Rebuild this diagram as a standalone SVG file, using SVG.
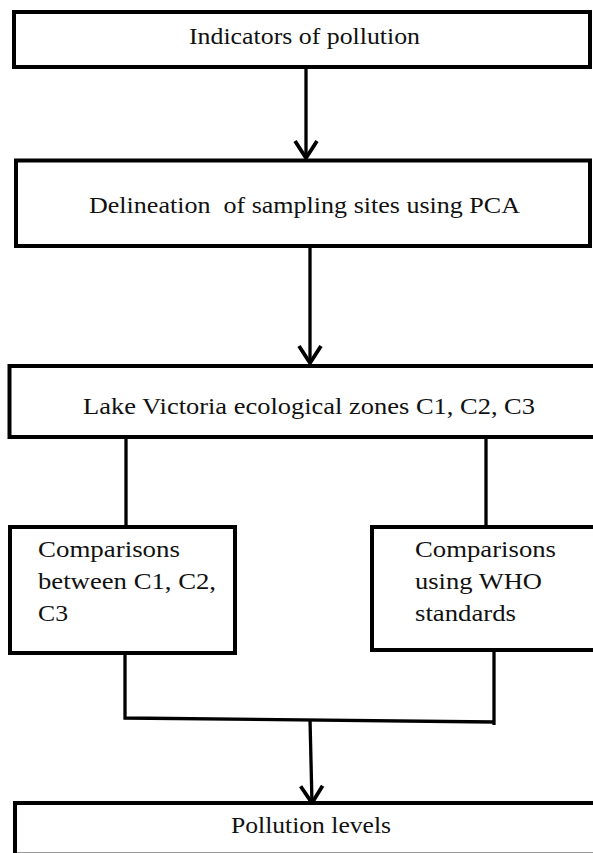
<svg xmlns="http://www.w3.org/2000/svg" width="593" height="853" viewBox="0 0 593 853">
<style>
.box{fill:#fff;stroke:#000;stroke-width:4}
.t{font-family:'Liberation Serif',serif;font-size:23px;fill:#111}
.c{fill:none;stroke:#000;stroke-width:3.3;stroke-linejoin:miter}
</style>
<defs>
<marker id="ah" markerUnits="userSpaceOnUse" markerWidth="24" markerHeight="30" viewBox="-21 -15 24 30" refX="0" refY="0" orient="auto">
<path d="M-17,-11 L0,0 L-17,11" fill="none" stroke="#000" stroke-width="3.8"/>
</marker>
</defs>
<rect width="593" height="853" fill="#fff"/>
<g id="connectors">
<line class="c" x1="306" y1="69" x2="306" y2="158" marker-end="url(#ah)"/>
<line class="c" x1="310" y1="248" x2="310" y2="363" marker-end="url(#ah)"/>
<line class="c" x1="126" y1="439" x2="126" y2="525"/>
<line class="c" x1="486" y1="439" x2="486" y2="525"/>
<polyline class="c" points="125,655 125,718 494,722"/>
<line class="c" x1="494" y1="652" x2="494" y2="725"/>
<line class="c" x1="310" y1="719" x2="312" y2="803" marker-end="url(#ah)"/>
</g>
<g id="n1">
<rect class="box" x="14" y="12" width="576" height="55"/>
<text class="t" x="189" y="44" textLength="231" lengthAdjust="spacingAndGlyphs">Indicators of pollution</text>
</g>
<g id="n2">
<rect class="box" x="16" y="160.5" width="574" height="85.5"/>
<text class="t" x="89" y="213" textLength="431" lengthAdjust="spacingAndGlyphs" xml:space="preserve">Delineation  of sampling sites using PCA</text>
</g>
<g id="n3">
<rect class="box" x="9.5" y="366" width="600" height="71"/>
<text class="t" x="83" y="414" textLength="452" lengthAdjust="spacingAndGlyphs">Lake Victoria ecological zones C1, C2, C3</text>
</g>
<g id="n4">
<rect class="box" x="10" y="527" width="225" height="126"/>
<text class="t" x="38" y="557" textLength="142" lengthAdjust="spacingAndGlyphs">Comparisons</text>
<text class="t" x="38" y="589" textLength="178" lengthAdjust="spacingAndGlyphs">between C1, C2,</text>
<text class="t" x="38" y="621" textLength="30" lengthAdjust="spacingAndGlyphs">C3</text>
</g>
<g id="n5">
<rect class="box" x="372" y="527" width="240" height="123"/>
<text class="t" x="415" y="557" textLength="141" lengthAdjust="spacingAndGlyphs">Comparisons</text>
<text class="t" x="415" y="589" textLength="127" lengthAdjust="spacingAndGlyphs">using WHO</text>
<text class="t" x="415" y="621" textLength="101" lengthAdjust="spacingAndGlyphs">standards</text>
</g>
<g id="n6">
<rect class="box" x="15" y="803" width="600" height="80"/>
<line x1="17" y1="852.5" x2="593" y2="852.5" stroke="#999" stroke-width="1"/>
<text class="t" x="231" y="833" textLength="160" lengthAdjust="spacingAndGlyphs">Pollution levels</text>
</g>
</svg>
